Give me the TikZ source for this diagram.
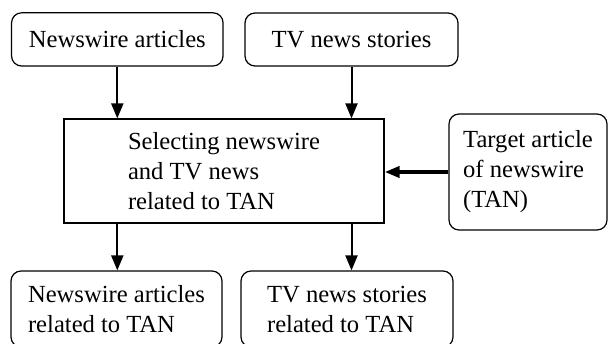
\documentclass[tikz,border=0pt]{standalone}
\usepackage{fontspec}
\setmainfont{Liberation Serif}
\usetikzlibrary{arrows.meta}

\begin{document}
\begin{tikzpicture}[x=0.5pt, y=-0.5pt]
\tikzset{boite/.style={draw, rounded corners=5pt, line width=0.6pt, align=left, font=\rmfamily\fontsize{12.3}{15}\selectfont, inner sep=0pt}}
\tikzset{cadre/.style={draw, line width=0.6pt, align=left, font=\rmfamily\fontsize{12.3}{15}\selectfont, inner sep=0pt}}
\tikzset{fleche/.style={line width=1pt, -{Triangle[length=7.5pt, width=6pt]}}}
\clip (0, 0) rectangle (608, 343);
\node[boite, minimum width=105.75pt, minimum height=26.6pt] (NW) at (117.3, 39.4) {Newswire articles};
\node[boite, minimum width=106.5pt, minimum height=26.5pt] (TV) at (351.5, 39.5) {TV news stories};
\node[cadre, minimum width=160pt, minimum height=52pt] (SEL) at (224, 171) {Selecting newswire\\and TV news\\related to TAN};
\node[boite, minimum width=79pt, minimum height=58pt] (TAN) at (528, 172) {Target article\\of newswire\\(TAN)};
\node[boite, minimum width=105.5pt, minimum height=38pt] (NWR) at (116.5, 309) {Newswire articles\\related to TAN};
\node[boite, minimum width=106pt, minimum height=38pt] (TVR) at (347, 309) {TV news stories\\related to TAN};
\draw[fleche] (NW.south) -- (NW.south |- SEL.north);
\draw[fleche] (TV.south) -- (TV.south |- SEL.north);
\draw[fleche] (SEL.south -| NW.south) -- (NWR.north -| NW.south);
\draw[fleche] (SEL.south -| TV.south) -- (TVR.north -| TV.south);
\draw[fleche, line width=2pt, -{Triangle[length=7.5pt, width=5.5pt]}] (TAN.west) -- (SEL.east |- TAN.west);
\end{tikzpicture}
\end{document}
